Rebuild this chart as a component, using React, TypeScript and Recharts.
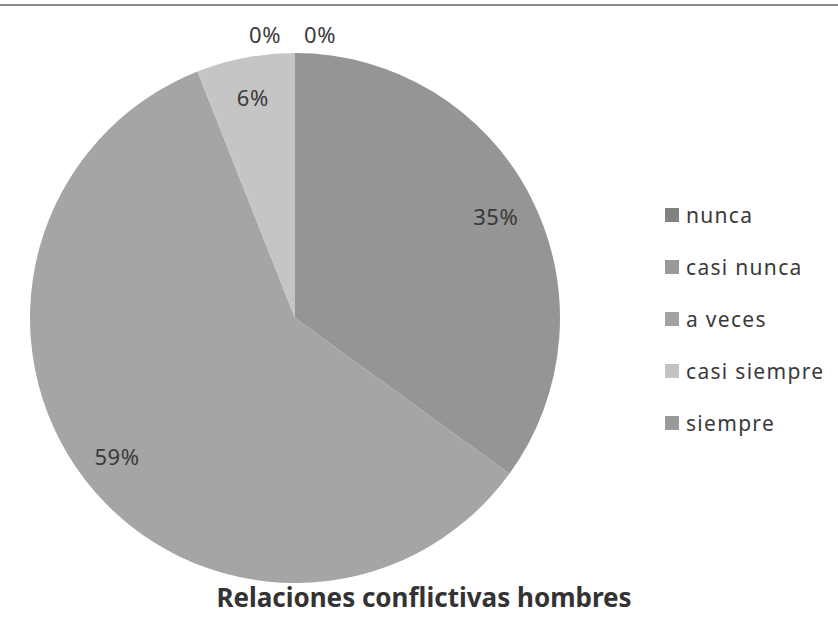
import React from 'react';
import { PieChart, Pie, Cell, Legend } from 'recharts';

document.body.style.margin = '0';

const categories = ['nunca', 'casi nunca', 'a veces', 'casi siempre', 'siempre'];
const shares = [35, 0, 59, 6, 0];
const sliceColors = ['#959595', '#9c9c9c', '#a5a5a5', '#c5c5c5', '#9a9a9a'];
const swatchColors = ['#828282', '#999999', '#a3a3a3', '#c3c3c3', '#9a9a9a'];

const data = categories.map((name, i) => ({ name, value: shares[i] }));

const FONT = '"Noto Sans", "Open Sans", sans-serif';
const RADIAN = Math.PI / 180;

// zero slices have no width, so their labels sit side by side above the top
const zeroOffsets: Record<number, number> = { 1: -30, 4: 25 };

function renderLabel(props: any) {
  const { cx, cy, midAngle, outerRadius, value, index } = props;
  let x: number;
  let y: number;
  if (value === 0) {
    x = cx + (zeroOffsets[index] ?? 0);
    y = cy - outerRadius - 19;
  } else {
    const r = outerRadius * 0.85;
    x = cx + r * Math.cos(-midAngle * RADIAN);
    y = cy + r * Math.sin(-midAngle * RADIAN);
  }
  return (
    <text
      x={x}
      y={y}
      fill="#3a3a3a"
      fontSize={22}
      letterSpacing={0.5}
      fontFamily={FONT}
      textAnchor="middle"
      dominantBaseline="central"
    >
      {`${value}%`}
    </text>
  );
}

function LegendBox() {
  return (
    <div style={{ fontFamily: FONT }}>
      {categories.map((name, i) => (
        <div
          key={name}
          style={{ display: 'flex', alignItems: 'center', height: 52, fontSize: 21, color: '#3a3a3a' }}
        >
          <span
            style={{ width: 14, height: 14, background: swatchColors[i], marginRight: 7, display: 'inline-block' }}
          />
          <span style={{ letterSpacing: 1.3 }}>{name}</span>
        </div>
      ))}
    </div>
  );
}

export default function App() {
  return (
    <div style={{ position: 'relative', width: 838, height: 627, background: '#fff' }}>
      <div style={{ position: 'absolute', left: 0, top: 4, width: 838, height: 2, background: '#8a8a8a' }} />
      <PieChart width={838} height={627}>
        <Pie
          data={data}
          dataKey="value"
          nameKey="name"
          cx={290}
          cy={313}
          outerRadius={265}
          startAngle={90}
          endAngle={-270}
          stroke="none"
          label={renderLabel}
          labelLine={false}
          isAnimationActive={false}
        >
          {data.map((entry, i) => (
            <Cell key={entry.name} fill={sliceColors[i]} />
          ))}
        </Pie>
        <Legend
          layout="vertical"
          content={() => <LegendBox />}
          wrapperStyle={{ position: 'absolute', left: 665, top: 189, width: 173 }}
        />
        <text
          x={424}
          y={597}
          textAnchor="middle"
          dominantBaseline="central"
          fontFamily={FONT}
          fontWeight="bold"
          fontSize={26}
          fill="#333"
        >
          Relaciones conflictivas hombres
        </text>
      </PieChart>
    </div>
  );
}
